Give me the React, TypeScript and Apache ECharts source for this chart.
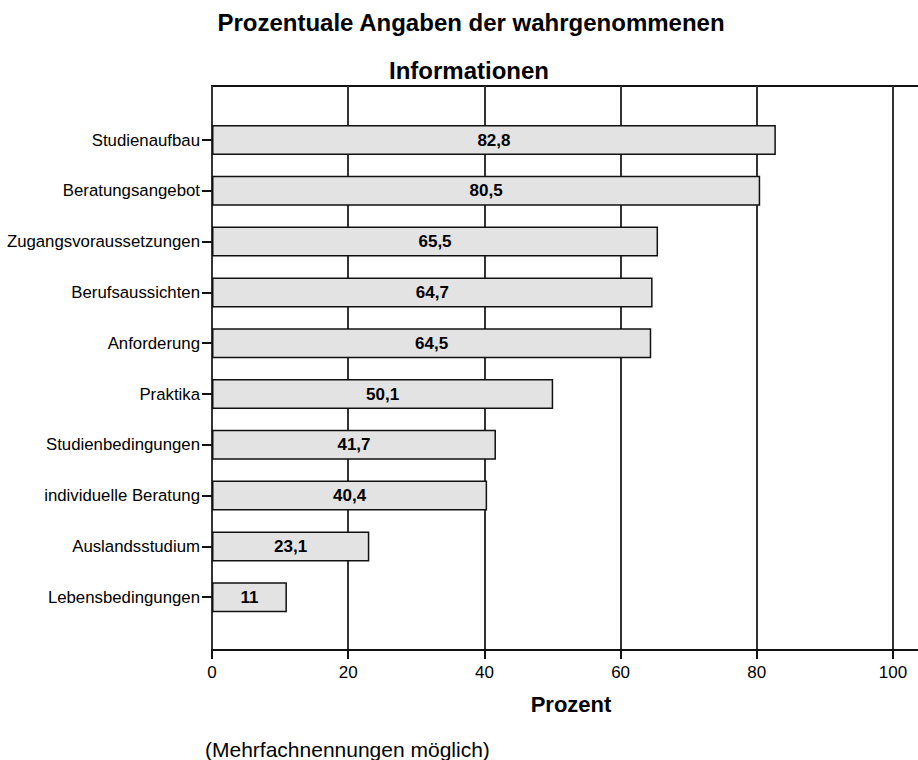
import React, { useEffect, useRef } from "react";
import * as echarts from "echarts";

const categories = [
  "Studienaufbau",
  "Beratungsangebot",
  "Zugangsvoraussetzungen",
  "Berufsaussichten",
  "Anforderung",
  "Praktika",
  "Studienbedingungen",
  "individuelle Beratung",
  "Auslandsstudium",
  "Lebensbedingungen",
];
const values = [82.8, 80.5, 65.5, 64.7, 64.5, 50.1, 41.7, 40.4, 23.1, 11];
const xTicks = [0, 20, 40, 60, 80, 100];
const titleLines = ["Prozentuale Angaben der wahrgenommenen", "Informationen"];
const xAxisName = "Prozent";
const footnote = "(Mehrfachnennungen möglich)";

const FONT = '"Liberation Sans", Arial, Helvetica, sans-serif';
const X_MAX = 104.26;

export default function App() {
  const ref = useRef<HTMLDivElement>(null);
  useEffect(() => {
    if (!ref.current) return;
    const chart = echarts.init(ref.current, undefined, { renderer: "svg" });
    chart.setOption({
      animation: false,
      backgroundColor: "#ffffff",
      textStyle: { fontFamily: FONT },
      graphic: [
        {
          type: "text",
          x: 471,
          y: 22,
          style: {
            text: titleLines[0],
            align: "center",
            verticalAlign: "middle",
            fontSize: 24,
            fontWeight: "bold",
            fontFamily: FONT,
            fill: "#000",
          },
        },
        {
          type: "text",
          x: 469,
          y: 70,
          style: {
            text: titleLines[1],
            align: "center",
            verticalAlign: "middle",
            fontSize: 24,
            fontWeight: "bold",
            fontFamily: FONT,
            fill: "#000",
          },
        },
        {
          type: "text",
          x: 571,
          y: 704,
          style: {
            text: xAxisName,
            align: "center",
            verticalAlign: "middle",
            fontSize: 22,
            fontWeight: "bold",
            fontFamily: FONT,
            fill: "#000",
          },
        },
        {
          type: "text",
          x: 205,
          y: 749,
          style: {
            text: footnote,
            align: "left",
            verticalAlign: "middle",
            fontSize: 21,
            fontFamily: FONT,
            fill: "#000",
          },
        },
      ],
      grid: [
        {
          left: 212,
          right: -4,
          top: 86,
          height: 564,
          show: true,
          borderColor: "#111",
          borderWidth: 2,
          backgroundColor: "transparent",
          containLabel: false,
          outerBoundsMode: "none",
        },
        {
          left: 212,
          right: -4,
          top: 114.6,
          height: 508,
          containLabel: false,
          outerBoundsMode: "none",
        },
      ],
      xAxis: [
        {
          type: "value",
          gridIndex: 0,
          min: 0,
          max: X_MAX,
          interval: 20,
          axisLine: { show: true, lineStyle: { color: "#111", width: 2 } },
          axisTick: {
            show: true,
            length: 9,
            lineStyle: { color: "#111", width: 2 },
          },
          axisLabel: {
            show: true,
            margin: 14,
            fontSize: 17,
            color: "#000",
            fontFamily: FONT,
            formatter: (v: number) => (xTicks.includes(v) ? String(v) : ""),
          },
          splitLine: { show: true, lineStyle: { color: "#333", width: 2 } },
        },
        {
          type: "value",
          gridIndex: 1,
          min: 0,
          max: X_MAX,
          show: false,
        },
      ],
      yAxis: [
        {
          type: "value",
          gridIndex: 0,
          min: 0,
          max: 1,
          show: false,
        },
        {
          type: "category",
          gridIndex: 1,
          data: categories,
          inverse: true,
          axisLine: { show: false },
          axisTick: {
            show: true,
            alignWithLabel: true,
            length: 10,
            lineStyle: { color: "#111", width: 2 },
          },
          axisLabel: {
            margin: 12,
            fontSize: 16.8,
            color: "#000",
            fontFamily: FONT,
          },
          splitLine: { show: false },
        },
      ],
      series: [
        {
          type: "bar",
          xAxisIndex: 1,
          yAxisIndex: 1,
          data: values,
          barWidth: 30,
          itemStyle: {
            color: "#e3e3e3",
            borderColor: "#111",
            borderWidth: 1.5,
          },
          label: {
            show: true,
            position: "inside",
            formatter: (p: any) => String(p.value).replace(".", ","),
            fontSize: 17,
            fontWeight: "bold",
            color: "#000",
            fontFamily: FONT,
          },
        },
      ],
    });
    return () => chart.dispose();
  }, []);
  return (
    <div
      ref={ref}
      style={{ position: "absolute", left: 0, top: 0, width: 918, height: 760 }}
    />
  );
}
